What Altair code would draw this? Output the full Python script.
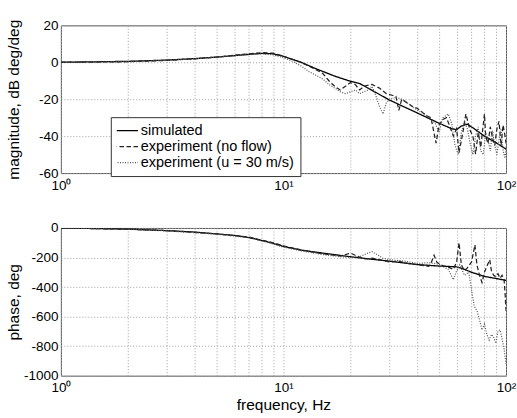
import altair as alt
import pandas as pd

# ---------------- data ----------------
series_names = ["simulated", "experiment (no flow)", "experiment (u = 30 m/s)"]

# magnitude (dB deg/deg)
sim_mag_f = [1, 2, 3, 4, 5, 6, 7, 8, 9, 10, 12, 14, 17, 20, 22, 24, 30, 40, 50, 57, 60, 63, 67, 72, 80, 90, 100]
sim_mag_v = [0, 0.5, 1.2, 2.0, 2.8, 3.6, 4.3, 4.8, 4.6, 3.2, 0, -3.5, -7.5, -10.3, -11.5, -14, -20.5, -27.5, -33, -36, -36.5, -34.5, -33.5, -36, -40, -43.5, -47]

nf_mag_f = [1, 2, 3, 4, 5, 6, 7, 8, 9, 10, 12, 14, 15, 16, 17, 18, 19, 20, 21, 22, 23, 25, 27, 29, 31, 32, 33, 34, 36, 38, 40, 42, 44, 46, 48.5, 50, 52, 54, 56, 58, 60, 61.5, 64, 66, 69, 71, 73, 75, 77, 80, 81, 83, 85, 87, 89, 91, 93, 95, 97, 99, 100]
nf_mag_v = [0, 0.3, 1.0, 1.9, 2.8, 3.8, 4.6, 5.2, 4.9, 3.3, 0, -4, -6, -10, -13, -15, -13, -11, -12, -15, -13, -12, -14, -17, -18, -18.4, -26, -20, -22, -24, -25, -27, -29, -30, -43.8, -34, -31, -30, -35, -40, -36, -49, -38, -28, -37, -40, -49.7, -38, -46, -28, -40, -44, -35, -41, -45, -36, -32, -45, -34, -40, -44]

fl_mag_f = [1, 2, 3, 4, 5, 6, 7, 8, 9, 10, 11, 12, 13, 14, 15, 16, 17, 18, 19, 20, 21, 22, 23, 24, 25, 26, 27, 28, 29, 30, 32, 34, 36, 38, 40, 43, 46, 48, 50, 52, 55, 57, 59, 61, 63, 65, 67, 69, 71, 73, 75, 77, 79, 81, 83, 85, 87, 89, 91, 93, 95, 97, 99, 100]
fl_mag_v = [0, 0.4, 1.1, 1.9, 2.7, 3.5, 4.2, 4.6, 4.0, 2.5, 0.5, -2, -5, -7, -9, -12, -14, -16, -17, -16, -15, -17, -16, -15, -13, -18, -24, -28, -22, -20, -19, -20, -22, -24, -26, -28, -31, -33, -38, -30, -28, -33, -45, -50, -38, -32, -36, -44, -50, -40, -35, -48, -50, -38, -42, -48, -37, -45, -50, -42, -36, -48, -52, -45]

# phase (deg)
sim_ph_f = [1, 2, 3, 4, 5, 6, 7, 8, 9, 10, 12, 15, 20, 25, 30, 40, 50, 60, 65, 70, 80, 90, 100]
sim_ph_v = [0, -8, -18, -28, -40, -50, -65, -85, -105, -125, -150, -170, -195, -212, -225, -248, -258, -263, -280, -300, -328, -342, -355]

nf_ph_f = [1, 2, 3, 5, 7, 9, 10, 12, 15, 18, 19, 20, 21, 23, 25, 27, 30, 33, 36, 40, 43, 45, 46, 47.5, 49, 52, 55, 58, 60, 61.5, 63, 65, 67, 70, 72.5, 74, 76, 78, 80, 82, 84.5, 86, 88, 90, 92, 94, 96, 98, 99, 100]
nf_ph_v = [0, -8, -18, -40, -62, -100, -122, -148, -175, -190, -180, -170, -185, -210, -205, -215, -230, -225, -240, -248, -255, -260, -240, -185, -235, -255, -265, -280, -230, -100, -250, -290, -270, -230, -115, -250, -320, -370, -300, -260, -215, -290, -320, -330, -310, -340, -320, -350, -440, -560]

fl_ph_f = [1, 2, 3, 5, 7, 9, 10, 12, 15, 18, 20, 22, 24, 25, 26, 28, 30, 35, 40, 45, 50, 55, 58, 60, 62, 65, 68, 70, 72, 74, 76, 78, 80, 82, 84, 86, 88, 90, 92, 94, 96, 98, 100]
fl_ph_v = [0, -9, -20, -42, -66, -108, -130, -155, -180, -195, -200, -195, -170, -160, -175, -205, -215, -225, -240, -235, -245, -280, -350, -290, -250, -320, -300, -420, -530, -560, -620, -690, -650, -720, -760, -720, -740, -780, -700, -690, -750, -820, -920]


def frame(fs, vs, name):
    return pd.DataFrame({"f": fs, "v": vs, "series": name})


mag_df = pd.concat([
    frame(sim_mag_f, sim_mag_v, series_names[0]),
    frame(nf_mag_f, nf_mag_v, series_names[1]),
    frame(fl_mag_f, fl_mag_v, series_names[2]),
])
ph_df = pd.concat([
    frame(sim_ph_f, sim_ph_v, series_names[0]),
    frame(nf_ph_f, nf_ph_v, series_names[1]),
    frame(fl_ph_f, fl_ph_v, series_names[2]),
])
mag_df["order"] = range(len(mag_df))
ph_df["order"] = range(len(ph_df))

# ---------------- styling ----------------
FONT = "Liberation Sans"
x_grid_vals = [1, 2, 3, 4, 5, 6, 7, 8, 9, 10, 20, 30, 40, 50, 60, 70, 80, 90, 100]
label_expr = ("datum.value == 1 ? '10⁰' : datum.value == 10 ? '10¹' : "
              "datum.value == 100 ? '10²' : ''")

grid_kw = dict(grid=True, gridColor="#a0a0a0", gridDash=[1, 2], gridWidth=1,
               domain=False, ticks=False, labelFont=FONT, labelFontSize=13.5,
               labelColor="black", titleFont=FONT, titleFontSize=15.5,
               titleFontWeight="normal", titleColor="black")


def x_enc(title):
    return alt.X("f:Q",
                 scale=alt.Scale(type="log", domain=[1, 100], nice=False),
                 axis=alt.Axis(values=x_grid_vals, labelExpr=label_expr,
                               labelOverlap=False, labelPadding=5,
                               labelFlush=False, title=title,
                               titlePadding=3, **grid_kw))


color_scale = alt.Scale(domain=series_names, range=["black", "#222222", "#555555"])
dash_scale = alt.Scale(domain=series_names, range=[[1, 0], [4.5, 2.5], [1, 1.5]])
width_scale = alt.Scale(domain=series_names, range=[1.3, 1.2, 1.0])

legend = alt.Legend(title=None, orient="none", legendX=50, legendY=92,
                    fillColor="white", strokeColor="#333333", padding=6,
                    labelFont=FONT, labelFontSize=14.5, labelColor="black",
                    symbolType="M-1.7,0H1.7", symbolSize=225, symbolStrokeWidth=1.2,
                    symbolFillColor="transparent",
                    rowPadding=0, labelOffset=7, cornerRadius=0, clipHeight=15)

W, H = 446, 148

y_lab = "'' + datum.value"

top = alt.Chart(mag_df).mark_line(clip=True).encode(
    x=x_enc(None),
    y=alt.Y("v:Q", scale=alt.Scale(domain=[-60, 20], nice=False),
            axis=alt.Axis(values=[20, 0, -20, -40, -60], title="magnitude, dB deg/deg",
                          labelExpr=y_lab,
                          labelPadding=3, titlePadding=3, minExtent=36, maxExtent=36,
                          **grid_kw)),
    color=alt.Color("series:N", scale=color_scale, legend=legend, sort=series_names),
    strokeDash=alt.StrokeDash("series:N", scale=dash_scale, legend=legend, sort=series_names),
    strokeWidth=alt.StrokeWidth("series:N", scale=width_scale, legend=None),
    order="order:Q",
).properties(width=W, height=H)

bottom = alt.Chart(ph_df).mark_line(clip=True).encode(
    x=x_enc("frequency, Hz"),
    y=alt.Y("v:Q", scale=alt.Scale(domain=[-1000, 0], nice=False),
            axis=alt.Axis(values=[0, -200, -400, -600, -800, -1000], title="phase, deg",
                          labelExpr=y_lab,
                          labelPadding=3, titlePadding=3, minExtent=36, maxExtent=36,
                          **grid_kw)),
    color=alt.Color("series:N", scale=color_scale, legend=None),
    strokeDash=alt.StrokeDash("series:N", scale=dash_scale, legend=None),
    strokeWidth=alt.StrokeWidth("series:N", scale=width_scale, legend=None),
    order="order:Q",
).properties(width=W, height=H)

chart = alt.vconcat(top, bottom, spacing=28).resolve_scale(
    color="independent", strokeDash="independent", strokeWidth="independent"
).properties(
    padding={"left": 6, "top": 17, "right": 0, "bottom": 0},
    background="white",
).configure_view(stroke="#555555", strokeWidth=1)

chart.save("out.html", embed_options={"renderer": "svg", "actions": False})
